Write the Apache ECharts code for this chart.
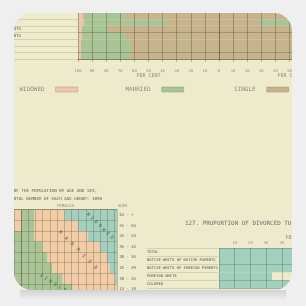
<!DOCTYPE html>
<html><head><meta charset="utf-8">
<script src="https://cdn.jsdelivr.net/npm/echarts@6/dist/echarts.min.js"></script>
<style>html,body{margin:0;padding:0;background:#efefef}#c{width:306px;height:306px}</style>
</head><body><div id="c"></div>
<script>
// ---------- top chart: conjugal condition, per cent ----------
const topCats = ['r1', 'r2', 'r3', 'r4', 'r5', 'r6', 'r7'];
const topRowLabels = ['', '', 'NATIVE WHITE OF NATIVE PARENTS', 'NATIVE WHITE OF FOREIGN PARENTS', '', '', ''];
const topWidowed = [3.5, 4.3, 2.8, 2.8, 2.1, 2.1, 2.1];
const topMarried = [29.8, 58.8, 17.8, 30.5, 34.8, 36.2, 34.8];
const topSingle = [66.7, 36.9, 79.4, 66.7, 63.1, 61.7, 63.1];
const topRightSingle = [100, 28.4, 100, 100, 100, 100, 100];
const topRightMarried = [0, 71.6, 0, 0, 0, 0, 0];
const topLeftTicks = ['100', '90', '80', '70', '60', '50', '40', '30', '20', '10', '0'];
const topRightTicks = ['0', '10', '20', '30', '40', '50', '60', '70', '80', '90', '100'];
const legendNames = ['WIDOWED', 'MARRIED', 'SINGLE'];

// ---------- lower left: females by age ----------
const ageGroups = ['65 - +', '55 - 64', '45 - 54', '35 - 44', '30 - 34', '25 - 29', '20 - 24', '15 - 19'];
const femSingle = [13.7, 13.7, 13.7, 22.1, 27.4, 32.6, 43.2, 53.7];
const femMarried = [31.6, 45.3, 55.8, 60.0, 62.1, 60.0, 54.7, 46.3];
const femWidowed = [54.7, 41.0, 30.5, 17.9, 10.5, 7.4, 2.1, 0];
const maleMarried = [-10, -10, 0, 0, 0, 0, 0, 0];
const maleSingle = [0, 0, -10, -10, -10, -10, -10, -10];

// ---------- lower right: divorced ----------
const divCats = ['TOTAL', 'NATIVE WHITE OF NATIVE PARENTS', 'NATIVE WHITE OF FOREIGN PARENTS', 'FOREIGN WHITE', 'COLORED'];
const divValues = [52, 50, 55, 33.8, 48];
const divTicks = ['0', '10', '20', '30', '40', '50', '60', '70', '80', '90', '100'];

const FONT = '"DejaVu Sans Mono", monospace';
const C = {
  cream: '#eeeacc', bg: '#efefef',
  pink: '#efc6ab', green: '#a9c497', tan: '#c8b48c', peach: '#f2cca6', teal: '#a2cfbe',
  line: 'rgba(70,66,40,0.6)', faint: 'rgba(110,100,70,0.3)', text: '#5e5e54', light: '#8d8d82'
};

const chart = echarts.init(document.getElementById('c'), null, {renderer: 'canvas'});

function bar(name, data, color, xi, yi, stack) {
  return {type: 'bar', name, data, stack, xAxisIndex: xi, yAxisIndex: yi,
    barCategoryGap: '0%', itemStyle: {color}, silent: true};
}
const sl = {show: true, lineStyle: {color: C.line, width: 0.6}};
const slFaint = {show: true, lineStyle: {color: C.faint, width: 0.6}};
const lbl = (size, extra) => Object.assign({fontSize: size, fontFamily: FONT, color: C.light}, extra || {});
const grid = (left, top, width, height) => ({left, top, width, height, containLabel: false, outerBoundsMode: 'none'});

function legend(name, right) {
  return {data: [name], right, top: 86.5, padding: 0, align: 'right', icon: 'rect',
    itemWidth: 22, itemHeight: 5, itemGap: 0, selectedMode: false,
    itemStyle: {borderColor: 'rgba(140,115,85,0.55)', borderWidth: 0.6},
    textStyle: {fontSize: 6, fontFamily: FONT, color: C.light, padding: [0, 6, 0, 0]}};
}

// card mask (outside of rounded card) built from rects and corner polygons
const L = 14, T = 13, R = 292, B = 290, RAD = 18;
function corner(cx, cy, a0, a1, px, py) {
  const pts = [[px, py]];
  for (let k = 0; k <= 12; k++) {
    const a = a0 + (a1 - a0) * k / 12;
    pts.push([cx + RAD * Math.cos(a), cy + RAD * Math.sin(a)]);
  }
  return {type: 'polygon', z: 100, silent: true, shape: {points: pts}, style: {fill: C.bg}};
}
const maskEls = [
  {type: 'rect', z: 100, silent: true, shape: {x: 0, y: 0, width: 306, height: T}, style: {fill: C.bg}},
  {type: 'rect', z: 100, silent: true, shape: {x: 0, y: B, width: 306, height: 306 - B}, style: {fill: C.bg}},
  {type: 'rect', z: 100, silent: true, shape: {x: 0, y: 0, width: L, height: 306}, style: {fill: C.bg}},
  {type: 'rect', z: 100, silent: true, shape: {x: R, y: 0, width: 306 - R, height: 306}, style: {fill: C.bg}},
  corner(L + RAD, T + RAD, -Math.PI / 2, -Math.PI, L, T),
  corner(R - RAD, T + RAD, -Math.PI / 2, 0, R, T),
  corner(L + RAD, B - RAD, Math.PI / 2, Math.PI, L, B),
  corner(R - RAD, B - RAD, Math.PI / 2, 0, R, B),
  {type: 'rect', z: 101, silent: true, shape: {x: L + 6, y: B, width: R - L - 12, height: 10},
    style: {fill: new echarts.graphic.LinearGradient(0, 0, 0, 1, [
      {offset: 0, color: 'rgba(0,0,0,0.12)'}, {offset: 1, color: 'rgba(0,0,0,0)'}])}}
];

function txt(text, x, y, size, fill, align, rotation) {
  return {type: 'text', x, y, rotation: rotation || 0, z: 50, silent: true,
    style: {text, fontSize: size, fontFamily: FONT, fill, align, textAlign: align,
      verticalAlign: 'middle', textVerticalAlign: 'middle'}};
}

const option = {
  backgroundColor: C.cream,
  animation: false,
  legend: [legend(legendNames[0], 228), legend(legendNames[1], 122), legend(legendNames[2], 17)],
  grid: [
    grid(78, 12.5, 141, 46.8),
    grid(219, 12.5, 141, 46.8),
    grid(0, 12.5, 78, 46.8),
    grid(14, 209.7, 103, 84.8),
    grid(219, 248, 157, 40.5),
    grid(147, 248, 71, 40.5)
  ],
  xAxis: [
    {gridIndex: 0, type: 'value', min: 0, max: 100, interval: 10, z: 5,
      axisLine: {show: true, lineStyle: {color: C.line, width: 0.6}},
      axisTick: {show: true, length: 2.5, lineStyle: {color: C.line, width: 0.6}},
      axisLabel: lbl(3.8, {margin: 9.5, formatter: v => topLeftTicks[Math.round(v / 10)]}),
      splitLine: sl,
      name: 'PER CENT', nameLocation: 'middle', nameGap: 2.5, nameTextStyle: lbl(5)},
    {gridIndex: 1, type: 'value', min: 0, max: 100, interval: 10, z: 5,
      axisLine: {show: true, lineStyle: {color: C.line, width: 0.6}},
      axisTick: {show: true, length: 2.5, lineStyle: {color: C.line, width: 0.6}},
      axisLabel: lbl(3.8, {margin: 9.5, showMinLabel: false, formatter: v => topRightTicks[Math.round(v / 10)]}),
      splitLine: sl,
      name: 'PER CENT', nameLocation: 'middle', nameGap: 2.5, nameTextStyle: lbl(5)},
    {gridIndex: 2, type: 'value', min: 0, max: 1, show: false},
    {gridIndex: 3, type: 'value', min: -7.5, max: 100, interval: 7.5, position: 'top', z: 5,
      axisLine: {show: true, onZero: false, lineStyle: {color: C.line, width: 0.6}},
      axisTick: {show: false}, axisLabel: {show: false},
      splitLine: {show: true, lineStyle: {color: 'rgba(80,80,50,0.5)', width: 0.6}},
      name: 'FEMALES', nameLocation: 'middle', nameGap: 2, nameTextStyle: lbl(4.2)},
    {gridIndex: 4, type: 'value', min: 0, max: 100, interval: 10, position: 'top', z: 5,
      axisLine: {show: false}, axisTick: {show: false},
      axisLabel: lbl(3.8, {margin: 2.5, showMinLabel: false, formatter: v => divTicks[Math.round(v / 10)]}),
      splitLine: {show: true, lineStyle: {color: 'rgba(60,90,75,0.55)', width: 0.6}},
      name: 'PER CENT', nameLocation: 'middle', nameGap: 8, nameTextStyle: lbl(5)},
    {gridIndex: 5, type: 'value', min: 0, max: 1, show: false}
  ],
  yAxis: [
    {gridIndex: 0, type: 'category', data: topCats, inverse: true, z: 5,
      axisLine: {show: false}, axisTick: {show: false}, axisLabel: {show: false}, splitLine: sl},
    {gridIndex: 1, type: 'category', data: topCats, inverse: true, z: 5,
      axisLine: {show: false}, axisTick: {show: false}, axisLabel: {show: false}, splitLine: sl},
    {gridIndex: 2, type: 'category', data: topCats, inverse: true, offset: -22,
      axisLine: {show: false}, axisTick: {show: false},
      axisLabel: lbl(4.2, {margin: 1, interval: 0, color: C.text, formatter: (v, i) => topRowLabels[i]}),
      splitLine: slFaint},
    {gridIndex: 3, type: 'category', data: ageGroups, inverse: true, position: 'right', z: 5,
      axisLine: {show: true, lineStyle: {color: C.line, width: 0.6}}, axisTick: {show: false},
      axisLabel: lbl(3.9, {margin: 2.5, interval: 0, color: C.text}),
      splitLine: {show: true, lineStyle: {color: 'rgba(80,80,50,0.5)', width: 0.6}}},
    {gridIndex: 4, type: 'category', data: divCats, inverse: true, z: 5,
      axisLine: {show: false}, axisTick: {show: false}, axisLabel: {show: false},
      splitLine: {show: true, lineStyle: {color: 'rgba(60,90,75,0.55)', width: 0.6}}},
    {gridIndex: 5, type: 'category', data: divCats, inverse: true,
      axisLine: {show: false}, axisTick: {show: false},
      axisLabel: lbl(3.8, {inside: true, margin: 0, interval: 0, color: C.text}),
      splitLine: slFaint}
  ],
  series: [
    bar('WIDOWED', topWidowed, C.pink, 0, 0, 'tl'),
    bar('MARRIED', topMarried, C.green, 0, 0, 'tl'),
    bar('SINGLE', topSingle, C.tan, 0, 0, 'tl'),
    bar('SINGLE', topRightSingle, C.tan, 1, 1, 'tr'),
    bar('MARRIED', topRightMarried, C.green, 1, 1, 'tr'),
    bar('Males married', maleMarried, C.peach, 3, 3, 'py'),
    bar('Males single', maleSingle, C.green, 3, 3, 'py'),
    bar('Females single', femSingle, C.green, 3, 3, 'py'),
    bar('Females married', femMarried, C.peach, 3, 3, 'py'),
    bar('Females widowed', femWidowed, C.teal, 3, 3, 'py'),
    bar('Divorced', divValues, C.teal, 4, 4, 'dv')
  ],
  graphic: {elements: [
    txt('SINGLE, MARRIED, AND WIDOWED, OF THE POPULATION BY AGE AND SEX,', 97, 191, 4.2, C.text, 'right'),
    txt('IN PER CENT OF THE TOTAL NUMBER OF EACH AGE GROUP: 1890', 102, 199, 4.2, C.text, 'right'),
    txt('AGES', 118, 206, 3.9, C.light, 'left'),
    txt('127. PROPORTION OF DIVORCED TO MARRIED', 185, 223, 5.9, '#707068', 'left'),
    txt('W I D O W E D', 100, 226, 4.6, '#4e5a52', 'center', -Math.PI / 4),
    txt('M  A  R  R  I  E  D', 78, 250, 4.6, '#5a5040', 'center', -Math.PI / 4),
    txt('S I N G L E', 53, 283, 4.6, '#4e5a48', 'center', -0.55)
  ].concat(maskEls)}
};
chart.setOption(option);
</script></body></html>
